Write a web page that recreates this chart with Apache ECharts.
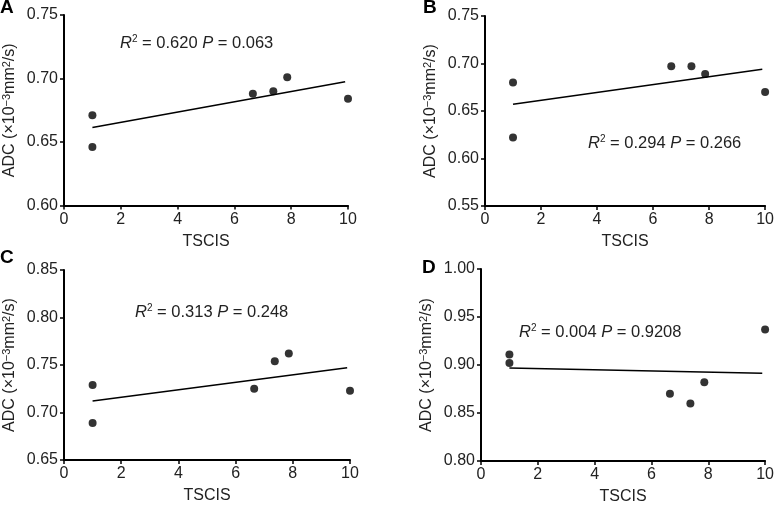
<!DOCTYPE html>
<html>
<head>
<meta charset="utf-8">
<style>
  html, body { margin: 0; padding: 0; background: #fff; }
  #main { width: 777px; height: 506px; }
</style>
<script src="https://cdn.jsdelivr.net/npm/echarts@6/dist/echarts.min.js"></script>
</head>
<body>
<div id="main"></div>
<script>
// TSCIS score of each case (same for all panels)
var tscis = [1, 1, 6.65, 7.37, 7.86, 10];
// ADC values per panel
var adcA = [0.671, 0.646, 0.688, 0.690, 0.701, 0.684];
var adcB = [0.680, 0.622, 0.697, 0.697, 0.689, 0.670];
var adcC = [0.729, 0.689, 0.725, 0.754, 0.762, 0.723];
var adcD = [0.911, 0.902, 0.870, 0.860, 0.882, 0.937];
// fitted line ends
var fitX = [1, 9.9];
var fitA = [0.6615, 0.6975];
var fitB = [0.657, 0.694];
var fitC = [0.712, 0.747];
var fitD = [0.897, 0.8915];
// y ranges
var yMin = [0.60, 0.55, 0.65, 0.80];
var yMax = [0.75, 0.75, 0.85, 1.00];
var panelLetters = ['A', 'B', 'C', 'D'];
var stats = [['0.620', '0.063'], ['0.294', '0.266'], ['0.313', '0.248'], ['0.004', '0.9208']];

var font = 'Liberation Sans, Arial, sans-serif';
var ink = '#222';

var dom = document.getElementById('main');
var myChart = echarts.init(dom);

function pairs(xs, ys) {
  var out = [];
  for (var i = 0; i < xs.length; i++) out.push([xs[i], ys[i]]);
  return out;
}

var grids = [
  {left: 64, right: 429, top: 15, bottom: 300.5},
  {left: 485, right: 7, top: 16, bottom: 300},
  {left: 64, right: 427, top: 270, bottom: 46},
  {left: 481, right: 11, top: 269, bottom: 43.5}
];

var xAxes = [], yAxes = [], series = [];
var adcAll = [adcA, adcB, adcC, adcD];
var fitAll = [fitA, fitB, fitC, fitD];

for (var k = 0; k < 4; k++) {
  xAxes.push({
    gridIndex: k, type: 'value', min: 0, max: 10, interval: 2,
    name: 'TSCIS', nameLocation: 'middle', nameGap: 28,
    nameTextStyle: {fontFamily: font, fontSize: 16, color: ink},
    axisLine: {show: true, lineStyle: {color: '#000', width: 2}},
    axisTick: {show: true, length: 4, lineStyle: {color: '#000', width: 1.5}},
    axisLabel: {fontFamily: font, fontSize: 16, color: ink, margin: 6},
    splitLine: {show: false}
  });
  yAxes.push({
    gridIndex: k, type: 'value', min: yMin[k], max: yMax[k], interval: 0.05,
    name: '{a|ADC (×10}{s|−3}{a|mm}{s|2}{a|/s)}',
    nameLocation: 'middle', nameGap: 45, nameRotate: 90,
    nameTextStyle: {
      fontFamily: font, color: ink,
      rich: {
        a: {fontFamily: font, fontSize: 16, color: ink, lineHeight: 18},
        s: {fontFamily: font, fontSize: 11, color: ink, lineHeight: 18, verticalAlign: 'top', padding: [0, 0, 6, 0]}
      }
    },
    axisLine: {show: true, lineStyle: {color: '#000', width: 2}},
    axisTick: {show: true, length: 4, lineStyle: {color: '#000', width: 1.5}},
    axisLabel: {
      fontFamily: font, fontSize: 16, color: ink, margin: 6,
      formatter: function (v) { return v.toFixed(2); }
    },
    splitLine: {show: false}
  });
  series.push({
    type: 'scatter', xAxisIndex: k, yAxisIndex: k,
    symbolSize: 8, itemStyle: {color: '#000'},
    data: pairs(tscis, adcAll[k]), z: 3
  });
  series.push({
    type: 'line', xAxisIndex: k, yAxisIndex: k,
    symbol: 'none', lineStyle: {color: '#000', width: 1.5},
    data: pairs(fitX, fitAll[k]), z: 2
  });
}

// annotation and panel letter positions
var statPos = [[120, 34], [588, 134], [135, 303], [519, 323]];
var letterPos = [[0, -2], [423, -2], [0, 248], [422, 258]];

var graphics = [];
for (var j = 0; j < 4; j++) {
  graphics.push({
    type: 'text', left: statPos[j][0], top: statPos[j][1],
    style: {
      text: '{i|R}{s|2}{n| = ' + stats[j][0] + ' }{i|P}{n| = ' + stats[j][1] + '}',
      rich: {
        i: {fontFamily: font, fontSize: 16.5, fontStyle: 'italic', fill: ink, lineHeight: 20},
        n: {fontFamily: font, fontSize: 16.5, fill: ink, lineHeight: 20},
        s: {fontFamily: font, fontSize: 10, fill: ink, lineHeight: 20, padding: [0, 0, 8, 0]}
      }
    }
  });
  graphics.push({
    type: 'text', left: letterPos[j][0], top: letterPos[j][1],
    style: {text: panelLetters[j], font: 'bold 19px ' + font, fill: '#000'}
  });
}

var option = {
  animation: false,
  backgroundColor: '#fff',
  grid: grids,
  xAxis: xAxes,
  yAxis: yAxes,
  series: series,
  graphic: graphics
};
myChart.setOption(option, true);
</script>
</body>
</html>
